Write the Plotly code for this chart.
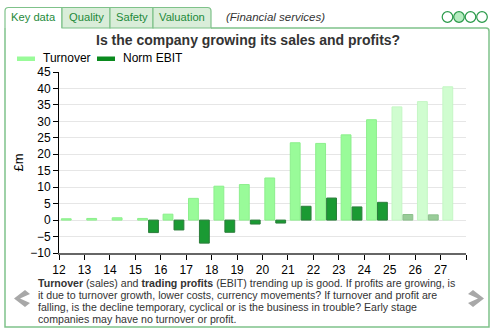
import plotly.graph_objects as go

years = list(range(12, 28))
turnover = [0.4, 0.5, 0.7, 0.5, 1.8, 6.6, 10.3, 10.8, 12.8, 23.5, 23.3, 25.9, 30.5, 34.4, 36.0, 40.5]
ebit = [0.0, 0.0, 0.0, -3.8, -3.0, -7.0, -3.7, -1.2, -0.9, 4.2, 6.7, 4.0, 5.4, 1.7, 1.6, 0.0]
forecast = [False] * 13 + [True] * 3
x_ticks = list(range(12, 29))
x_labels = [str(v) for v in range(12, 28)] + [""]
y_ticks = list(range(-10, 50, 5))

W, H = 499, 334
L, R, T, B = 59, 466, 72, 253

def px(x):
    return (x - L) / (R - L)

def py(y):
    return (B - y) / (B - T)

turn_col = ["#d0fdd0" if f else "#99fb99" for f in forecast]
turn_line = ["#c4f7c4" if f else "#8cef8c" for f in forecast]
ebit_col = ["#99cc99" if f else "#1a9a33" for f in forecast]
ebit_line = ["#8cbf8c" if f else "#2b7d3b" for f in forecast]
ebit_lw = [0 if v == 0 else 1 for v in ebit]

xc = [y + 0.5 for y in years]

fig = go.Figure()
fig.add_trace(go.Bar(x=xc, y=turnover, name="Turnover", marker=dict(color=turn_col, line=dict(color=turn_line, width=1))))
fig.add_trace(go.Bar(x=xc, y=ebit, name="Norm EBIT", marker=dict(color=ebit_col, line=dict(color=ebit_line, width=ebit_lw))))

font = "Arial, Liberation Sans, sans-serif"
fig.update_layout(
    width=W, height=H, autosize=False,
    margin=dict(l=L, r=W - R, t=T, b=H - B, pad=0),
    paper_bgcolor="white", plot_bgcolor="white",
    barmode="group", bargap=0.14, bargroupgap=0.1,
    showlegend=False,
    font=dict(family=font, color="#000", size=12),
    xaxis=dict(range=[12, 28], tickvals=x_ticks, ticktext=x_labels, ticks="outside", ticklen=5,
               tickcolor="#000", showline=True, linecolor="#666", linewidth=2, showgrid=False,
               zeroline=False, tickfont=dict(size=12, family=font, color="#000"), fixedrange=True),
    yaxis=dict(range=[-10, 45], tickvals=y_ticks, ticks="outside", ticklen=5, tickcolor="#000",
               showline=True, linecolor="#000", linewidth=1, showgrid=True, gridcolor="#e6e6e6",
               gridwidth=1, zeroline=False, tickfont=dict(size=12, family=font, color="#000"),
               title=dict(text="£m", font=dict(size=13, family=font, color="#000"), standoff=3),
               fixedrange=True),
)

shapes = []
ann = []
green = "#7fc28a"
# panel border
shapes.append(dict(type="path", xref="paper", yref="paper",
                   path=f"M {px(211)},{py(28)} L {px(486)},{py(28)} Q {px(489)},{py(28)} {px(489)},{py(31)} "
                        f"L {px(489)},{py(327)} L {px(5)},{py(327)} L {px(5)},{py(28)}",
                   line=dict(color=green, width=1.5), layer="below"))
# tabs
tabs = [("Key data", 5, 62, "white"), ("Quality", 62, 110, "#d9edd9"), ("Safety", 110, 153, "#d9edd9"), ("Valuation", 153, 211, "#d9edd9")]
for i, (name, x0, x1, bg) in enumerate(tabs):
    if i == 0:
        path = (f"M {px(x0)},{py(28)} L {px(x0)},{py(11)} Q {px(x0)},{py(7.5)} {px(x0+3.5)},{py(7.5)} "
                f"L {px(x1)},{py(7.5)} L {px(x1)},{py(28)}")
    elif i == len(tabs) - 1:
        path = (f"M {px(x0)},{py(28)} L {px(x0)},{py(7.5)} L {px(x1-3.5)},{py(7.5)} "
                f"Q {px(x1)},{py(7.5)} {px(x1)},{py(11)} L {px(x1)},{py(28)} Z")
    else:
        path = f"M {px(x0)},{py(28)} L {px(x0)},{py(7.5)} L {px(x1)},{py(7.5)} L {px(x1)},{py(28)} Z"
    shapes.append(dict(type="path", xref="paper", yref="paper", path=path, fillcolor=bg,
                       line=dict(color=green, width=1.2), layer="below"))
    ann.append(dict(text=name, x=px((x0 + x1) / 2), y=py(17.5), xref="paper", yref="paper",
                    showarrow=False, xanchor="center", yanchor="middle",
                    font=dict(size=11.2, family=font, color="#1e8a3a")))
ann.append(dict(text="<i>(Financial services)</i>", x=px(224), y=py(17.5), xref="paper", yref="paper",
                showarrow=False, xanchor="left", yanchor="middle", font=dict(size=11.5, family=font, color="#333")))
# circles
for i, cx in enumerate([447.5, 459, 470.5, 482]):
    r = 5.3
    shapes.append(dict(type="circle", xref="paper", yref="paper", x0=px(cx - r), x1=px(cx + r),
                       y0=py(17 + r), y1=py(17 - r), line=dict(color="#2a9a4a", width=1.2),
                       fillcolor="#b5ecc0" if i == 1 else "white"))
# title
ann.append(dict(text="<b>Is the company growing its sales and profits?</b>", x=px(248), y=py(40),
                xref="paper", yref="paper", showarrow=False, xanchor="center", yanchor="middle",
                font=dict(size=14, family=font, color="#333")))
# legend
for (name, col, x0) in [("Turnover", "#99fb99", 17), ("Norm EBIT", "#0a8a1e", 97)]:
    shapes.append(dict(type="rect", xref="paper", yref="paper", x0=px(x0), x1=px(x0 + 18),
                       y0=py(61), y1=py(56.5), fillcolor=col, line=dict(width=0)))
    ann.append(dict(text=name, x=px(x0 + 24), y=py(58.5), xref="paper", yref="paper", showarrow=False,
                    xanchor="left", yanchor="middle", font=dict(size=12, family=font, color="#000")))
# description
desc_lines = [
    "<b>Turnover</b> (sales) and <b>trading profits</b> (EBIT) trending up is good. If profits are growing, is",
    "it due to turnover growth, lower costs, currency movements? If turnover and profit are",
    "falling, is the decline temporary, cyclical or is the business in trouble? Early stage",
    "companies may have no turnover or profit.",
]
for i, line in enumerate(desc_lines):
    ann.append(dict(text=line, x=px(36), y=py(283 + 12 * i), xref="paper", yref="paper", showarrow=False,
                    xanchor="left", yanchor="middle", align="left",
                    font=dict(size=10.6, family=font, color="#333")))
# chevrons
def chev(x_tip, x_back, direction):
    w = 5
    if direction < 0:
        pts = [(x_back, 290), (x_back + w, 294), (x_tip + w + 1, 298.5), (x_back + w, 303), (x_back, 307), (x_tip, 298.5)]
    else:
        pts = [(x_back, 290), (x_back - w, 294), (x_tip - w - 1, 298.5), (x_back - w, 303), (x_back, 307), (x_tip, 298.5)]
    p = "M " + " L ".join(f"{px(a)},{py(b)}" for a, b in pts) + " Z"
    return dict(type="path", xref="paper", yref="paper", path=p, fillcolor="#a8a8a8", line=dict(width=0))
shapes.append(chev(14, 25, -1))
shapes.append(chev(484, 473, 1))

fig.update_layout(shapes=shapes, annotations=ann)
fig.write_html("out.html")
